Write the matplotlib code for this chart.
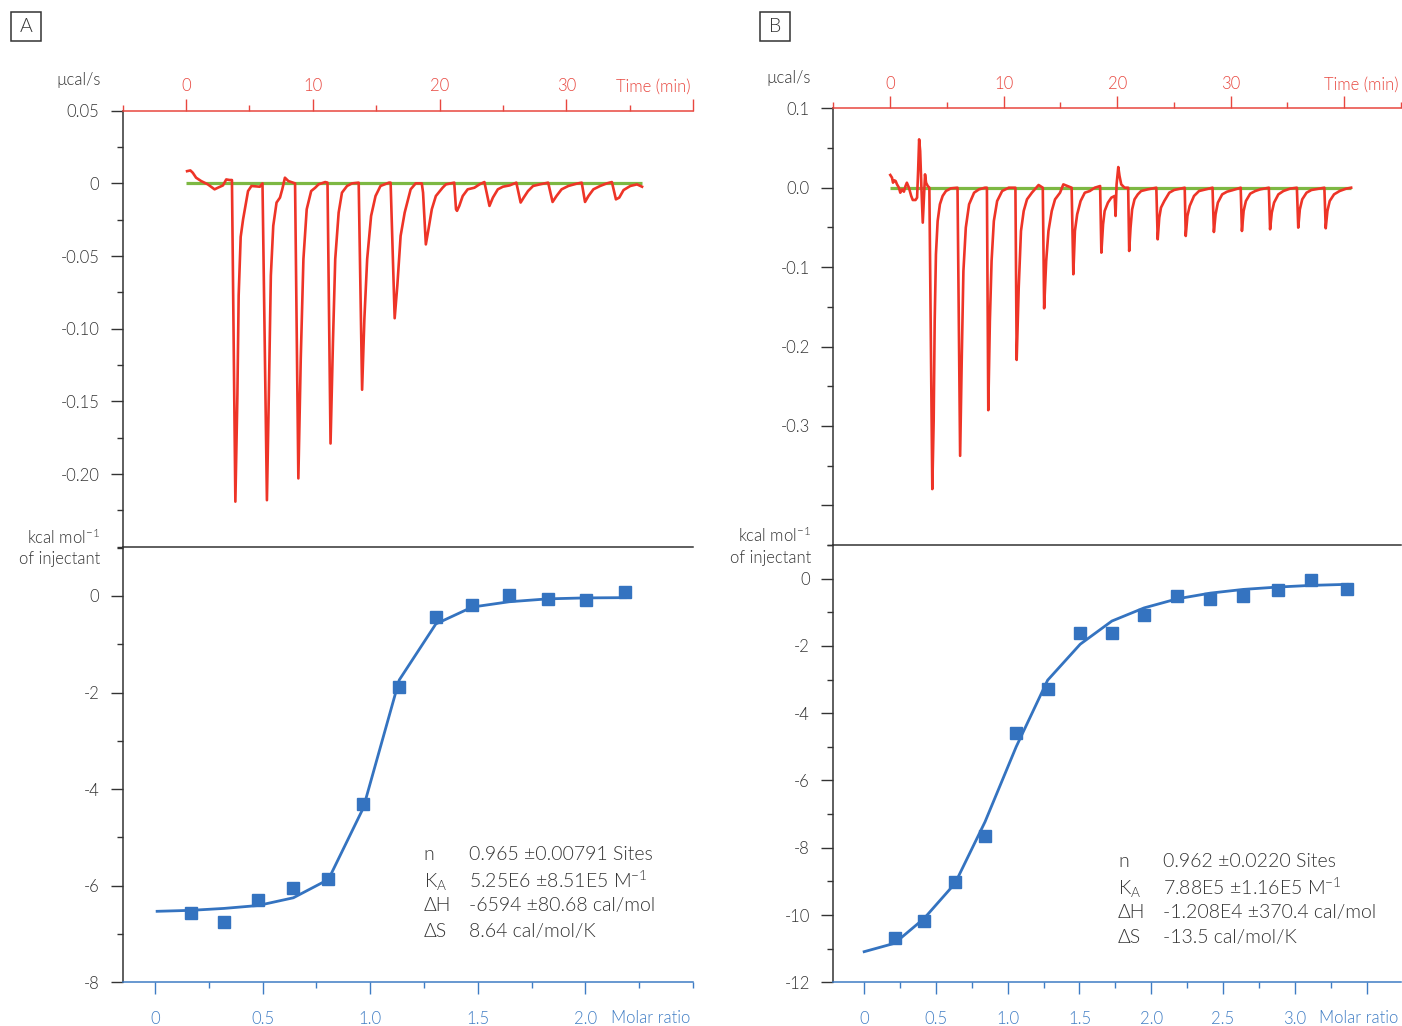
import matplotlib
matplotlib.use('Agg')
import matplotlib.pyplot as plt
from matplotlib.patches import Rectangle

plt.rcParams['font.family'] = ['Lato', 'DejaVu Sans']
plt.rcParams['font.weight'] = 300
plt.rcParams['axes.unicode_minus'] = False
plt.rcParams['mathtext.fontset'] = 'custom'
plt.rcParams['mathtext.rm'] = 'Lato'
plt.rcParams['mathtext.it'] = 'Lato'
plt.rcParams['mathtext.default'] = 'regular'

# ---------------- data: panel A ----------------
a_time = [0.08, 0.34, 0.53, 0.79, 1.19, 1.72, 2.25, 2.51, 2.91, 3.17,
          3.44, 3.62, 3.89, 4.05, 4.15, 4.31, 4.50, 4.89, 5.16, 5.82,
          6.03, 6.38, 6.53, 6.69, 6.88, 7.14, 7.41, 7.59, 7.80, 8.07,
          8.60, 8.86, 9.05, 9.26, 9.52, 9.87, 10.19, 10.45, 10.98, 11.16,
          11.40, 11.59, 11.77, 12.04, 12.30, 12.70, 13.10, 13.62, 13.89, 14.07,
          14.29, 14.60, 14.95, 15.34, 16.01, 16.14, 16.46, 16.67, 16.93, 17.25,
          17.72, 18.12, 18.60, 18.70, 18.92, 19.13, 19.39, 19.71, 20.24, 20.50,
          21.16, 21.30, 21.38, 21.56, 21.83, 22.22, 22.75, 23.15, 23.54, 23.94,
          24.21, 24.60, 25.00, 25.53, 26.06, 26.40, 26.64, 26.98, 27.38, 27.91,
          28.57, 28.92, 29.23, 29.63, 30.16, 30.82, 31.22, 31.48, 31.75, 32.14,
          32.67, 33.20, 33.60, 33.92, 34.18, 34.52, 35.05, 35.58, 35.98]
a_power = [0.0084, 0.0089, 0.0073, 0.0039, 0.0016, -0.0007, -0.0041, -0.0030, -0.0014, 0.0027,
           0.0023, 0.0023, -0.2190, -0.1457, -0.0772, -0.0368, -0.0247, -0.0053, -0.0018, -0.0023,
           0.0, -0.2180, -0.1457, -0.0635, -0.0292, -0.0132, -0.0098, -0.0041, 0.0039, 0.0016,
           0.0, -0.2030, -0.1205, -0.0521, -0.0178, -0.0053, -0.0030, -0.0007, 0.0009, 0.0005,
           -0.1790, -0.1091, -0.0521, -0.0201, -0.0064, -0.0018, 0.0, 0.0005, -0.1420, -0.0932,
           -0.0521, -0.0224, -0.0087, -0.0018, 0.0005, 0.0005, -0.0928, -0.0703, -0.0361, -0.0201,
           -0.0041, 0.0, 0.0, -0.0064, -0.0420, -0.0315, -0.0178, -0.0087, -0.0030, -0.0007,
           0.0005, -0.0178, -0.0189, -0.0155, -0.0087, -0.0041, -0.0030, -0.0007, 0.0009, -0.0155,
           -0.0098, -0.0041, -0.0023, -0.0014, 0.0005, -0.0132, -0.0098, -0.0053, -0.0018, -0.0007,
           0.0005, -0.0128, -0.0087, -0.0041, -0.0018, -0.0002, 0.0005, -0.0128, -0.0087, -0.0041,
           -0.0018, 0.0, 0.0009, -0.0110, -0.0098, -0.0046, -0.0018, -0.0007, -0.0023]
a_base_time = [0.0, 36.0]
a_base_power = [0.0, 0.0]

a_ratio = [0.167, 0.321, 0.479, 0.643, 0.806, 0.968, 1.135, 1.305, 1.474, 1.646, 1.826, 2.003, 2.186]
a_heat = [-6.57, -6.76, -6.29, -6.05, -5.87, -4.31, -1.89, -0.44, -0.19, 0.02, -0.06, -0.08, 0.08]
a_fit_ratio = [0.01, 0.167, 0.321, 0.479, 0.643, 0.806, 0.968, 1.135, 1.305, 1.474, 1.646, 1.826, 2.003, 2.186]
a_fit_heat = [-6.53, -6.51, -6.47, -6.41, -6.25, -5.87, -4.39, -1.74, -0.58, -0.23, -0.12, -0.06, -0.04, -0.035]
a_stat_names = ['n', 'K$_{A}$', 'ΔH', 'ΔS']
a_stat_values = ['0.965 ±0.00791 Sites', '5.25E6 ±8.51E5 M$^{-1}$', '-6594 ±80.68 cal/mol', '8.64 cal/mol/K']

# ---------------- data: panel B ----------------
b_time = [0.02, 0.17, 0.26, 0.37, 0.49, 0.61, 0.78, 0.90, 1.07, 1.22,
          1.36, 1.48, 1.66, 1.86, 2.00, 2.24, 2.38, 2.47, 2.56, 2.65,
          2.76, 2.88, 2.97, 3.08, 3.17, 3.32, 3.46, 3.72, 3.84, 3.93,
          4.04, 4.19, 4.39, 4.63, 4.92, 5.36, 5.94, 6.17, 6.32, 6.46,
          6.67, 6.96, 7.40, 7.83, 8.36, 8.53, 8.65, 8.79, 8.94, 9.14,
          9.43, 9.87, 10.45, 11.04, 11.15, 11.33, 11.53, 11.77, 12.06, 12.49,
          12.87, 13.08, 13.45, 13.57, 13.75, 13.95, 14.24, 14.53, 14.97, 15.26,
          15.99, 16.14, 16.28, 16.48, 16.78, 17.15, 17.59, 18.03, 18.50, 18.61,
          18.76, 18.90, 19.19, 19.49, 19.78, 19.86, 19.95, 20.10, 20.21, 20.36,
          20.65, 20.97, 21.06, 21.18, 21.32, 21.53, 21.82, 22.11, 22.69, 23.45,
          23.57, 23.71, 23.86, 24.15, 24.59, 25.02, 25.95, 26.04, 26.19, 26.39,
          26.77, 27.21, 27.79, 28.40, 28.52, 28.67, 28.87, 29.25, 29.68, 30.12,
          30.88, 30.99, 31.14, 31.34, 31.72, 32.16, 32.60, 33.36, 33.47, 33.62,
          33.82, 34.20, 34.64, 35.22, 35.83, 35.95, 36.09, 36.30, 36.68, 37.11,
          38.25, 38.37, 38.52, 38.72, 39.10, 39.59, 40.17, 40.61]
b_power = [0.0160, 0.0126, 0.0063, 0.0093, 0.0084, 0.0042, 0.0, -0.0063, -0.0021, -0.0050,
           0.0021, 0.0063, 0.0, -0.0104, -0.0155, -0.0155, -0.0125, 0.0210, 0.0609, 0.0462,
           0.0, -0.0440, -0.0168, 0.0168, 0.0063, 0.0021, 0.0, -0.3796, -0.2936, -0.1678,
           -0.0839, -0.0420, -0.0209, -0.0104, -0.0042, -0.0008, 0.0, -0.3377, -0.2097, -0.1049,
           -0.0503, -0.0209, -0.0063, -0.0021, 0.0, 0.0, -0.2802, -0.1678, -0.0923, -0.0420,
           -0.0168, -0.0042, 0.0, 0.0, -0.2169, -0.1259, -0.0545, -0.0293, -0.0147, -0.0063,
           0.0, 0.0034, 0.0, -0.1519, -0.0923, -0.0545, -0.0293, -0.0147, -0.0063, 0.0042,
           0.0, -0.1090, -0.0545, -0.0335, -0.0168, -0.0063, -0.0042, 0.0, 0.0021, -0.0818,
           -0.0461, -0.0293, -0.0188, -0.0125, -0.0104, -0.0356, 0.0042, 0.0260, 0.0147, 0.0042,
           0.0, 0.0, -0.0797, -0.0503, -0.0273, -0.0147, -0.0084, -0.0042, -0.0021, 0.0,
           -0.0650, -0.0377, -0.0251, -0.0168, -0.0063, -0.0029, 0.0, -0.0608, -0.0356, -0.0230,
           -0.0104, -0.0042, -0.0021, 0.0, -0.0558, -0.0335, -0.0188, -0.0084, -0.0050, -0.0033,
           0.0, -0.0545, -0.0293, -0.0168, -0.0075, -0.0042, -0.0021, 0.0, -0.0524, -0.0314,
           -0.0188, -0.0084, -0.0042, -0.0012, 0.0, -0.0503, -0.0273, -0.0147, -0.0063, -0.0029,
           0.0, -0.0511, -0.0293, -0.0168, -0.0084, -0.0042, -0.0012, 0.0]
b_base_time = [0.0, 40.6]
b_base_power = [0.0, 0.0]

b_ratio = [0.212, 0.418, 0.633, 0.842, 1.059, 1.278, 1.505, 1.726, 1.950, 2.181, 2.412, 2.642, 2.882, 3.116, 3.365]
b_heat = [-10.67, -10.18, -9.01, -7.65, -4.60, -3.29, -1.63, -1.63, -1.09, -0.53, -0.62, -0.52, -0.35, -0.05, -0.30]
b_fit_ratio = [0.0, 0.212, 0.418, 0.633, 0.842, 1.059, 1.278, 1.505, 1.726, 1.950, 2.181, 2.412, 2.642, 2.882, 3.116, 3.365]
b_fit_heat = [-11.09, -10.84, -10.10, -9.06, -7.23, -5.00, -3.02, -1.95, -1.26, -0.87, -0.60, -0.43, -0.32, -0.25, -0.20, -0.17]
b_stat_names = ['n', 'K$_{A}$', 'ΔH', 'ΔS']
b_stat_values = ['0.962 ±0.0220 Sites', '7.88E5 ±1.16E5 M$^{-1}$', '-1.208E4 ±370.4 cal/mol', '-13.5 cal/mol/K']

# tick labels
a_top_yticks = [0.05, 0.0, -0.05, -0.10, -0.15, -0.20]
a_top_ylabels = ['0.05', '0', '-0.05', '-0.10', '-0.15', '-0.20']
b_top_yticks = [0.1, 0.0, -0.1, -0.2, -0.3, -0.4]
b_top_ylabels = ['0.1', '0.0', '-0.1', '-0.2', '-0.3', '']
a_time_ticks = [0, 10, 20, 30, 40]
a_time_labels = ['0', '10', '20', '30', '']
b_time_ticks = [0, 10, 20, 30, 40]
b_time_labels = ['0', '10', '20', '30', '']
a_bot_yticks = [0, -2, -4, -6, -8]
a_bot_ylabels = ['0', '-2', '-4', '-6', '-8']
b_bot_yticks = [0, -2, -4, -6, -8, -10, -12]
b_bot_ylabels = ['0', '-2', '-4', '-6', '-8', '-10', '-12']
a_ratio_ticks = [0, 0.5, 1.0, 1.5, 2.0]
a_ratio_labels = ['0', '0.5', '1.0', '1.5', '2.0']
b_ratio_ticks = [0, 0.5, 1.0, 1.5, 2.0, 2.5, 3.0, 3.5]
b_ratio_labels = ['0', '0.5', '1.0', '1.5', '2.0', '2.5', '3.0', '']

# ---------------- styling ----------------
RED = '#EE3427'
AXRED = '#E8473F'
GREEN = '#7DB843'
BLUE = '#3473C0'
AXBLUE = '#3E7CC4'
DARK = '#333333'
FS_TICK = 12
FS_STAT = 14

W, H = 1402, 1026
fig = plt.figure(figsize=(W / 100, H / 100), dpi=100)


def rect(l, t, r, b):
    return [l / W, 1 - b / H, (r - l) / W, (b - t) / H]


def frange(a, b, step):
    out = []
    v = a
    while v <= b + 1e-9:
        out.append(round(v, 6))
        v += step
    return out


def style_left(ax, yticks, ylabels, yminor):
    ax.spines['left'].set_color(DARK)
    ax.spines['left'].set_linewidth(1.1)
    ax.spines['right'].set_visible(False)
    ax.set_yticks(yticks, ylabels)
    ax.set_yticks(yminor, minor=True)
    ax.tick_params(axis='y', which='both', direction='out', color=DARK,
                   labelcolor=DARK, labelsize=FS_TICK, width=1.0)
    ax.tick_params(axis='y', which='major', length=8.4, pad=8.4)
    ax.tick_params(axis='y', which='minor', length=4.3)
    ax.patch.set_alpha(0)


def top_panel(rect_px, t, p, bt, bp, xlim, ylim, xt, xl, yt, yl, ymin_step):
    ax = fig.add_axes(rect_px)
    ax.plot(bt, bp, color=GREEN, lw=2.3, solid_capstyle='butt', zorder=2)
    ax.plot(t, p, color=RED, lw=1.9, zorder=3, solid_joinstyle='round')
    ax.set_xlim(xlim)
    ax.set_ylim(ylim)
    style_left(ax, yt, yl, frange(ylim[0], ylim[1], ymin_step))
    ax.spines['top'].set_color(AXRED)
    ax.spines['top'].set_linewidth(1.1)
    ax.spines['bottom'].set_color(DARK)
    ax.spines['bottom'].set_linewidth(1.1)
    ax.xaxis.set_ticks_position('top')
    ax.xaxis.set_label_position('top')
    ax.set_xticks(xt, xl)
    ax.set_xticks(frange(xlim[0], xlim[1], 5), minor=True)
    ax.tick_params(axis='x', which='both', direction='out', color=AXRED,
                   labelcolor=AXRED, labelsize=FS_TICK, width=1.0)
    ax.tick_params(axis='x', which='major', length=8.4, pad=3.5)
    ax.tick_params(axis='x', which='minor', length=4.3)
    ax.annotate('Time (min)', xy=(1, 1), xycoords='axes fraction', xytext=(-2, 17),
                textcoords='offset points', ha='right', va='center',
                color=AXRED, fontsize=FS_TICK)
    ax.annotate('µcal/s', xy=(0, 1), xycoords='axes fraction', xytext=(-16, 22),
                textcoords='offset points', ha='right', va='center',
                color=DARK, fontsize=FS_TICK)
    return ax


def bottom_panel(rect_px, xr, yh, fx, fy, xlim, ylim, xt, xl, yt, yl, names, vals, sx, sv, sy):
    ax = fig.add_axes(rect_px)
    ax.plot(fx, fy, color=BLUE, lw=2.0, zorder=2)
    ax.plot(xr, yh, ls='none', marker='s', ms=9, color=BLUE, zorder=3)
    ax.set_xlim(xlim)
    ax.set_ylim(ylim)
    style_left(ax, yt, yl, frange(ylim[0], ylim[1], 1))
    ax.spines['top'].set_visible(False)
    ax.spines['bottom'].set_color(AXBLUE)
    ax.spines['bottom'].set_linewidth(1.1)
    ax.set_xticks(xt, xl)
    ax.set_xticks(frange(0, xlim[1], 0.25), minor=True)
    ax.tick_params(axis='x', which='both', direction='out', color=AXBLUE,
                   labelcolor=AXBLUE, labelsize=FS_TICK, width=1.0)
    ax.tick_params(axis='x', which='major', length=8.4, pad=12)
    ax.tick_params(axis='x', which='minor', length=4.3)
    ax.annotate('Molar ratio', xy=(1, 0), xycoords='axes fraction', xytext=(-2, -26),
                textcoords='offset points', ha='right', va='center',
                color=AXBLUE, fontsize=FS_TICK)
    ax.annotate('kcal mol$^{-1}$', xy=(0, 1), xycoords='axes fraction', xytext=(-16, 7),
                textcoords='offset points', ha='right', va='center',
                color=DARK, fontsize=FS_TICK)
    ax.annotate('of injectant', xy=(0, 1), xycoords='axes fraction', xytext=(-16, -9),
                textcoords='offset points', ha='right', va='center',
                color=DARK, fontsize=FS_TICK)
    for i in range(len(names)):
        ax.text(sx, sy[i], names[i], transform=ax.transAxes, ha='left',
                va='center_baseline', fontsize=FS_STAT, color=DARK)
        ax.text(sv, sy[i], vals[i], transform=ax.transAxes, ha='left',
                va='center_baseline', fontsize=FS_STAT, color=DARK)
    return ax


top_panel(rect(122.7, 110.7, 693, 546.7), a_time, a_power, a_base_time, a_base_power,
          (-5, 40), (-0.25, 0.05), a_time_ticks, a_time_labels,
          a_top_yticks, a_top_ylabels, 0.025)
bottom_panel(rect(122.7, 546.7, 693, 982.3), a_ratio, a_heat, a_fit_ratio, a_fit_heat,
             (-0.15, 2.5), (-8, 1.02), a_ratio_ticks, a_ratio_labels,
             a_bot_yticks, a_bot_ylabels, a_stat_names, a_stat_values,
             0.528, 0.607, [0.297, 0.238, 0.180, 0.120])

top_panel(rect(833.3, 108.3, 1401, 545), b_time, b_power, b_base_time, b_base_power,
          (-5, 45), (-0.45, 0.1), b_time_ticks, b_time_labels,
          b_top_yticks, b_top_ylabels, 0.05)
bottom_panel(rect(833.3, 545, 1401, 982.3), b_ratio, b_heat, b_fit_ratio, b_fit_heat,
             (-0.215, 3.74), (-12, 1.0), b_ratio_ticks, b_ratio_labels,
             b_bot_yticks, b_bot_ylabels, b_stat_names, b_stat_values,
             0.5015, 0.581, [0.280, 0.221, 0.163, 0.106])

# panel letters
for letter, x0 in (('A', 11), ('B', 760)):
    fig.patches.append(Rectangle((x0 / W, 1 - 41 / H), 30 / W, 29 / H,
                                 transform=fig.transFigure, fill=False,
                                 ec=DARK, lw=1.1))
    fig.text((x0 + 15) / W, 1 - 26.5 / H, letter, ha='center', va='center',
             fontsize=14, color=DARK)

fig.savefig('out.png', dpi=100)
